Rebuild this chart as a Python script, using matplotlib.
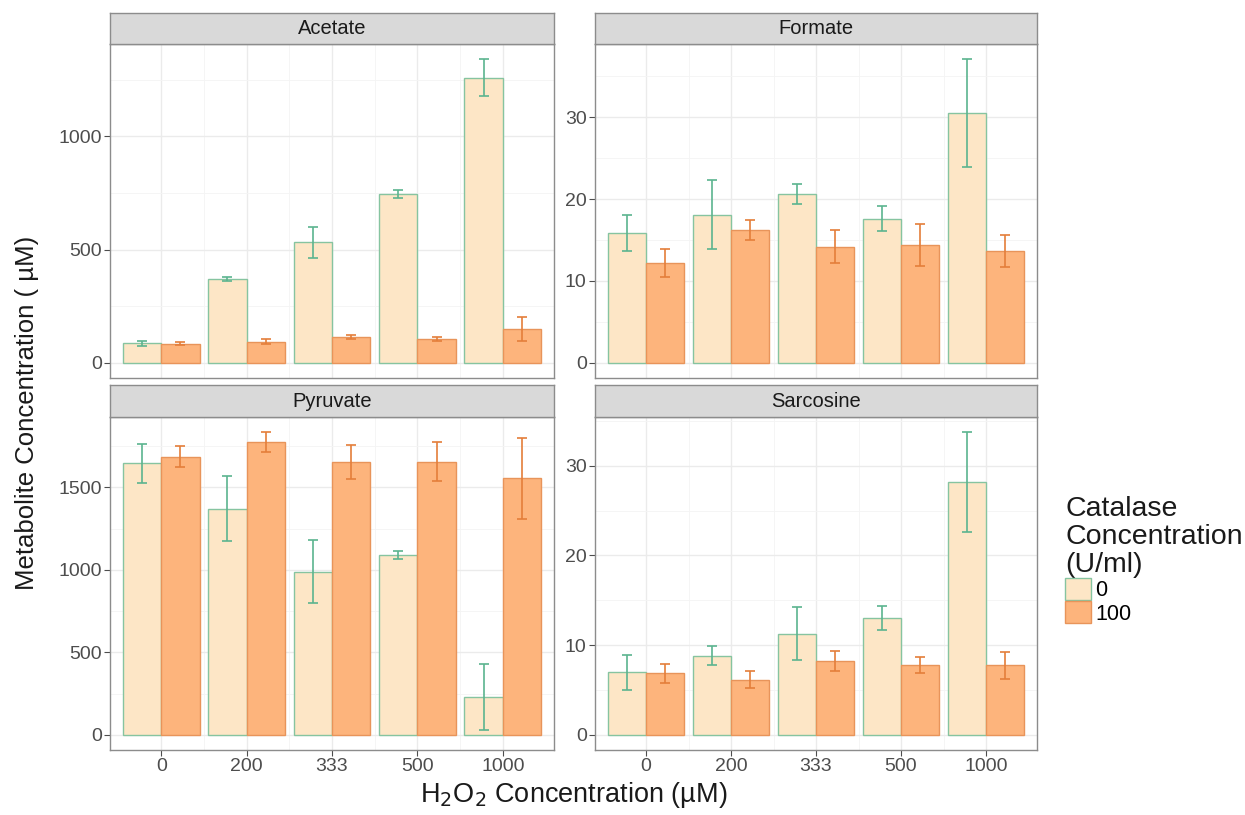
import numpy as np
import matplotlib as mpl
import matplotlib.pyplot as plt
from matplotlib.patches import Patch
from matplotlib.ticker import MultipleLocator

plt.rcParams['font.family'] = ['Liberation Sans', 'DejaVu Sans']

h2o2 = ['0', '200', '333', '500', '1000']
metabolites = ['Acetate', 'Formate', 'Pyruvate', 'Sarcosine']
catalase = ['0', '100']

# mean and error for catalase 0 / 100
acetate_0 = [86, 370, 532, 744, 1259]
acetate_0_err = [10, 8, 69, 17, 81]
acetate_100 = [85, 93, 115, 105, 148]
acetate_100_err = [8, 10, 8, 8, 52]

formate_0 = [15.9, 18.1, 20.6, 17.6, 30.5]
formate_0_err = [2.2, 4.2, 1.25, 1.5, 6.6]
formate_100 = [12.2, 16.2, 14.2, 14.4, 13.7]
formate_100_err = [1.7, 1.2, 2.0, 2.55, 1.95]

pyruvate_0 = [1646, 1372, 990, 1091, 229]
pyruvate_0_err = [117, 197, 192, 25, 201]
pyruvate_100 = [1687, 1774, 1656, 1656, 1555]
pyruvate_100_err = [63, 61, 104, 117, 244]

sarcosine_0 = [7.0, 8.8, 11.3, 13.0, 28.2]
sarcosine_0_err = [1.95, 1.06, 2.9, 1.35, 5.55]
sarcosine_100 = [6.85, 6.15, 8.2, 7.75, 7.75]
sarcosine_100_err = [1.07, 0.92, 1.1, 0.9, 1.5]

data = {
    'Acetate': (acetate_0, acetate_0_err, acetate_100, acetate_100_err, 500),
    'Formate': (formate_0, formate_0_err, formate_100, formate_100_err, 10),
    'Pyruvate': (pyruvate_0, pyruvate_0_err, pyruvate_100, pyruvate_100_err, 500),
    'Sarcosine': (sarcosine_0, sarcosine_0_err, sarcosine_100, sarcosine_100_err, 10),
}

fill_0 = '#FDE6C6'
edge_0 = '#86C4A0'
err_0 = '#5BB48F'
fill_100 = '#FDB47C'
edge_100 = '#E8945A'
err_100 = '#E47E3A'
border = '#8C8C8C'
tick_col = '#4D4D4D'

W, H = 1245, 815
fig = plt.figure(figsize=(W / 100, H / 100), dpi=100)

cols = [(110, 554), (595, 1037)]
rows = [((13, 44), (44, 378)), ((385, 417), (417, 750))]

x = np.arange(1, len(h2o2) + 1)
bw = 0.45

for i, name in enumerate(metabolites):
    r, c = divmod(i, 2)
    x0, x1 = cols[c]
    (s0, s1), (p0, p1) = rows[r]
    ax = fig.add_axes([x0 / W, 1 - p1 / H, (x1 - x0) / W, (p1 - p0) / H])
    sax = fig.add_axes([x0 / W, 1 - s1 / H, (x1 - x0) / W, (s1 - s0) / H])

    v0, e0, v1, e1, step = data[name]
    v0, e0, v1, e1 = map(np.array, (v0, e0, v1, e1))

    ax.bar(x - bw / 2, v0, width=bw, color=fill_0, edgecolor=edge_0,
           linewidth=1.0, zorder=3)
    ax.bar(x + bw / 2, v1, width=bw, color=fill_100, edgecolor=edge_100,
           linewidth=1.0, zorder=3)
    ax.errorbar(x - bw / 2, v0, yerr=e0, fmt='none', ecolor=err_0,
                elinewidth=1.2, capsize=3.8, capthick=1.2, zorder=4)
    ax.errorbar(x + bw / 2, v1, yerr=e1, fmt='none', ecolor=err_100,
                elinewidth=1.2, capsize=3.8, capthick=1.2, zorder=4)

    top = max((v0 + e0).max(), (v1 + e1).max())
    ax.set_ylim(-0.05 * top, 1.05 * top)
    ax.set_xlim(0.4, 5.6)

    ax.yaxis.set_major_locator(MultipleLocator(step))
    ax.yaxis.set_minor_locator(MultipleLocator(step / 2))
    ax.set_xticks(x)
    ax.set_xticks(x[:-1] + 0.5, minor=True)
    ax.grid(True, which='major', color='#EBEBEB', linewidth=1.0, zorder=0)
    ax.grid(True, which='minor', color='#F4F4F4', linewidth=0.6, zorder=0)
    ax.set_axisbelow(True)

    ax.tick_params(which='major', length=4, width=0.8, color=tick_col,
                   labelsize=14, labelcolor=tick_col, pad=2)
    ax.tick_params(which='minor', length=0)
    if r == 0:
        ax.set_xticklabels([])
        ax.tick_params(axis='x', length=0)
    else:
        ax.set_xticklabels(h2o2)
    for sp in ax.spines.values():
        sp.set_color(border)
        sp.set_linewidth(1.0)

    sax.set_facecolor('#D9D9D9')
    sax.set_xticks([])
    sax.set_yticks([])
    for sp in sax.spines.values():
        sp.set_color(border)
        sp.set_linewidth(1.0)
    sax.text(0.5, 0.5, name, ha='center', va='center', fontsize=14.5,
             color='#1A1A1A', transform=sax.transAxes)

fig.text(27 / W, 1 - 413 / H, 'Metabolite Concentration ( \u00b5M)',
         rotation=90, ha='center', va='center', fontsize=18.5, color='#1A1A1A')
fig.text(574 / W, 1 - 795 / H, 'H$_2$O$_2$ Concentration (\u00b5M)',
         ha='center', va='center', fontsize=19.5, color='#1A1A1A')

handles = [Patch(facecolor=fill_0, edgecolor=edge_0, label=catalase[0]),
           Patch(facecolor=fill_100, edgecolor=edge_100, label=catalase[1])]
leg = fig.legend(handles=handles, title='Catalase\nConcentration\n(U/ml)',
                 loc='upper left', bbox_to_anchor=(1050 / W, 1 - 481 / H),
                 frameon=False, fontsize=15.5, title_fontsize=20.5,
                 handlelength=1.2, handleheight=1.2, handletextpad=0.2,
                 labelspacing=0.0, borderpad=0.2)
leg._legend_box.align = 'left'
leg.get_title().set_color('#1A1A1A')
leg.get_title().set_linespacing(1.1)

fig.savefig('out.png', dpi=100)
